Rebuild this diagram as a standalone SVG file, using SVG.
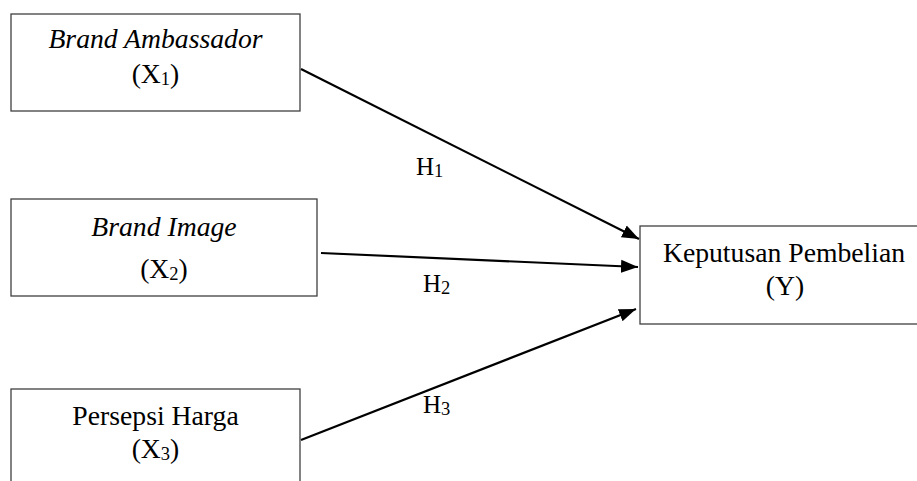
<svg xmlns="http://www.w3.org/2000/svg" width="917" height="481" viewBox="0 0 917 481">
<style>
  .box { fill: #ffffff; stroke: #404040; stroke-width: 1.3; }
  .t { font-family: "Liberation Serif", "Times New Roman", serif; font-size: 27.7px; fill: #000; text-anchor: middle; }
  .it { font-style: italic; }
  .lbl { font-family: "Liberation Serif", "Times New Roman", serif; font-size: 25px; fill: #000; }
  .sub { font-size: 18.5px; }
  .arr { stroke: #000; stroke-width: 2.2; fill: none; marker-end: url(#ah); }
</style>
<defs>
  <marker id="ah" markerUnits="userSpaceOnUse" markerWidth="18" markerHeight="14" refX="17" refY="7" orient="auto">
    <path d="M0,0.5 L17,7 L0,13.5 z" fill="#000"/>
  </marker>
</defs>
<rect width="917" height="481" fill="#ffffff"/>
<g id="x1">
  <rect class="box" x="11" y="14" width="289" height="97"/>
  <text class="t it" x="155.5" y="48">Brand Ambassador</text>
  <text class="t" x="155.5" y="83">(X<tspan class="sub" dy="2">1</tspan><tspan dy="-2">)</tspan></text>
</g>
<g id="x2">
  <rect class="box" x="11" y="199" width="306" height="97"/>
  <text class="t it" x="164" y="236">Brand Image</text>
  <text class="t" x="164" y="278">(X<tspan class="sub" dy="2">2</tspan><tspan dy="-2">)</tspan></text>
</g>
<g id="x3">
  <rect class="box" x="11" y="389" width="289" height="120"/>
  <text class="t" x="155.5" y="425">Persepsi Harga</text>
  <text class="t" x="155.5" y="458">(X<tspan class="sub" dy="2">3</tspan><tspan dy="-2">)</tspan></text>
</g>
<g id="y">
  <rect class="box" x="640" y="226" width="300" height="98"/>
  <text class="t" x="784" y="262">Keputusan Pembelian</text>
  <text class="t" x="785" y="295">(Y)</text>
</g>
<g id="connectors">
  <line class="arr" x1="301" y1="69" x2="639" y2="239"/>
  <line class="arr" x1="321" y1="253" x2="638" y2="267"/>
  <line class="arr" x1="301" y1="440" x2="636" y2="309"/>
  <text class="lbl" x="416" y="175">H<tspan class="sub" dy="2">1</tspan></text>
  <text class="lbl" x="423" y="292">H<tspan class="sub" dy="2">2</tspan></text>
  <text class="lbl" x="423" y="413">H<tspan class="sub" dy="2">3</tspan></text>
</g>
</svg>
